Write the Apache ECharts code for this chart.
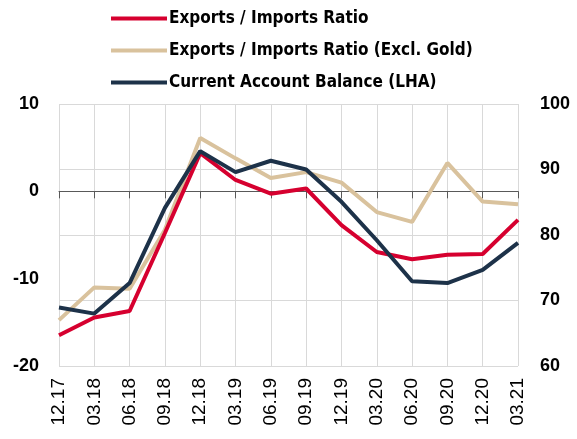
<!DOCTYPE html>
<html>
<head>
<meta charset="utf-8">
<script src="https://cdn.jsdelivr.net/npm/echarts@6/dist/echarts.min.js"></script>
<style>
  html, body { margin: 0; padding: 0; background: #fff; }
  #chart { width: 577px; height: 439px; }
</style>
</head>
<body>
<div id="chart"></div>
<script>
const categories = ['12.17', '03.18', '06.18', '09.18', '12.18', '03.19', '06.19',
  '09.19', '12.19', '03.20', '06.20', '09.20', '12.20', '03.21'];

// right axis
const exportsImports = [64.7, 67.4, 68.4, 80.3, 92.5, 88.4, 86.3, 87.1, 81.5, 77.4, 76.3, 77.0, 77.1, 82.3];
const exportsImportsExGold = [67.0, 72.0, 71.8, 80.8, 94.8, 91.7, 88.7, 89.6, 88.0, 83.5, 82.0, 91.0, 85.1, 84.7];
// left axis
const currentAccount = [-13.3, -14.0, -10.5, -1.9, 4.6, 2.2, 3.5, 2.5, -1.2, -5.6, -10.3, -10.5, -9.0, -5.9];

const leftTicks = { min: -20, max: 10, interval: 10 };
const rightTicks = { min: 60, max: 100, interval: 10 };

const chart = echarts.init(document.getElementById('chart'));

const labelFont = {
  color: '#000',
  fontFamily: 'Liberation Sans',
  fontWeight: 'bold',
  fontSize: 18
};

chart.setOption({
  animation: false,
  color: ['#d6002f', '#d9c29d', '#1d3249'],
  legend: {
    orient: 'vertical',
    left: 106,
    top: 5,
    itemWidth: 56,
    itemHeight: 4,
    itemGap: 15,
    icon: 'rect',
    textStyle: {
      color: '#000',
      fontFamily: '"DejaVu Sans Condensed", "Liberation Sans"',
      fontWeight: 'bold',
      fontSize: 17,
      padding: [0, 0, 0, -3]
    },
    data: ['Exports / Imports Ratio', 'Exports / Imports Ratio (Excl. Gold)', 'Current Account Balance (LHA)']
  },
  grid: { left: 59, right: 59, top: 104, bottom: 73 },
  xAxis: {
    type: 'category',
    boundaryGap: false,
    data: categories,
    axisLine: { lineStyle: { color: '#595959', width: 1 } },
    axisTick: { length: 7, lineStyle: { color: '#595959' } },
    axisLabel: {
      rotate: 90,
      margin: 12,
      color: '#000',
      fontFamily: 'Liberation Sans',
      fontSize: 19
    },
    splitLine: { show: true, lineStyle: { color: '#d9d9d9', width: 1 } }
  },
  yAxis: [
    {
      type: 'value',
      position: 'left',
      min: leftTicks.min,
      max: leftTicks.max,
      interval: leftTicks.interval,
      axisLine: { show: false },
      axisTick: { show: false },
      splitLine: { show: false },
      axisLabel: Object.assign({ margin: 20 }, labelFont)
    },
    {
      type: 'value',
      position: 'right',
      min: rightTicks.min,
      max: rightTicks.max,
      interval: rightTicks.interval,
      axisLine: { show: false },
      axisTick: { show: false },
      splitLine: { show: true, lineStyle: { color: '#d9d9d9', width: 1 } },
      axisLabel: Object.assign({ margin: 22 }, labelFont)
    }
  ],
  series: [
    {
      name: 'Exports / Imports Ratio',
      type: 'line',
      yAxisIndex: 1,
      data: exportsImports,
      showSymbol: false,
      lineStyle: { width: 4 },
      z: 3
    },
    {
      name: 'Exports / Imports Ratio (Excl. Gold)',
      type: 'line',
      yAxisIndex: 1,
      data: exportsImportsExGold,
      showSymbol: false,
      lineStyle: { width: 4 },
      z: 2
    },
    {
      name: 'Current Account Balance (LHA)',
      type: 'line',
      yAxisIndex: 0,
      data: currentAccount,
      showSymbol: false,
      lineStyle: { width: 4 },
      z: 4
    }
  ]
});
</script>
</body>
</html>
